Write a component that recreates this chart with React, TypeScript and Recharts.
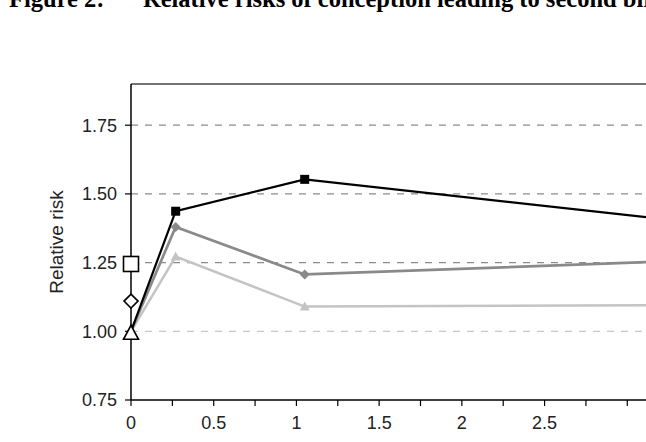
import React from 'react';
import {ComposedChart, Line, Scatter, XAxis, YAxis, ReferenceLine} from 'recharts';

// years since first birth, relative risk for each group
const years = [0, 0.27, 1.05, 3.5];
const blackRisk = [1.0, 1.437, 1.553, 1.39];
const darkRisk = [1.0, 1.38, 1.207, 1.26];
const lightRisk = [1.0, 1.272, 1.09, 1.096];

// unadjusted values, drawn as open markers on the y axis
const openMarkers = [
    {x: 0, y: 1.245, shape: 'square'},
    {x: 0, y: 1.11, shape: 'diamond'},
    {x: 0, y: 1.0, shape: 'triangle'},
];

const xTicks = [0, 0.25, 0.5, 0.75, 1, 1.25, 1.5, 1.75, 2, 2.25, 2.5, 2.75, 3, 3.25, 3.5];
const xLabels = ['0', '0.5', '1', '1.5', '2', '2.5'];
const yTicks = [0.75, 1.0, 1.25, 1.5, 1.75];
const gridValues = [1.0, 1.25, 1.5, 1.75];

const data = years.map((x, i) => ({
    x,
    black: blackRisk[i],
    dark: darkRisk[i],
    light: lightRisk[i],
}));

const FONT = '"Liberation Sans", Arial, Helvetica, sans-serif';
const SERIF = '"Liberation Serif", "Times New Roman", serif';

const squareDot = (props) => {
    const {cx, cy, index} = props;
    if (index === 0) return <g key={`sq-${index}`}/>;
    return <rect key={`sq-${index}`} x={cx - 4.5} y={cy - 4.5} width={9} height={9} fill="#000"/>;
};

const diamondDot = (props) => {
    const {cx, cy, index} = props;
    if (index === 0) return <g key={`dm-${index}`}/>;
    return (
        <path key={`dm-${index}`} d={`M${cx},${cy - 5}L${cx + 5},${cy}L${cx},${cy + 5}L${cx - 5},${cy}Z`} fill="#8a8a8a"/>
    );
};

const triangleDot = (props) => {
    const {cx, cy, index} = props;
    if (index === 0) return <g key={`tr-${index}`}/>;
    return (
        <path key={`tr-${index}`} d={`M${cx},${cy - 5}L${cx + 5},${cy + 4}L${cx - 5},${cy + 4}Z`} fill="#c4c4c4"/>
    );
};

const OpenMarker = (props) => {
    const {cx, cy, payload} = props;
    const common = {fill: '#fff', stroke: '#000', strokeWidth: 1.6};
    if (payload.shape === 'square') {
        return <rect x={cx - 7.5} y={cy - 7.5} width={15} height={15} {...common}/>;
    }
    if (payload.shape === 'diamond') {
        return <path d={`M${cx},${cy - 7}L${cx + 7},${cy}L${cx},${cy + 7}L${cx - 7},${cy}Z`} {...common}/>;
    }
    return <path d={`M${cx},${cy - 6}L${cx + 7.5},${cy + 8}L${cx - 7.5},${cy + 8}Z`} {...common}/>;
};

const YLabel = (props) => {
    const {viewBox} = props;
    const x = viewBox.x + 56;
    const y = viewBox.y + viewBox.height / 2;
    return (
        <text x={x} y={y} transform={`rotate(-90, ${x}, ${y})`} textAnchor="middle" dominantBaseline="central"
              fontFamily={FONT} fontSize={19} fill="#222">
            Relative risk
        </text>
    );
};

const titleStyle: React.CSSProperties = {
    position: 'absolute', top: -13, fontFamily: SERIF, fontWeight: 'bold', fontSize: 24.5,
    lineHeight: '24px', whiteSpace: 'nowrap', color: '#000',
};

const App = () => {
    return (
        <div style={{position: 'fixed', left: 0, top: 0, width: 646, height: 442, overflow: 'hidden', background: '#fff'}}>
            <div style={{...titleStyle, left: 9}}>Figure 2:</div>
            <div style={{...titleStyle, left: 143}}>Relative risks of conception leading to second birth</div>
            <ComposedChart
                width={720}
                height={442}
                data={data}
                margin={{top: 84, right: 10, bottom: 10, left: 0}}
                style={{position: 'absolute', left: 0, top: 0}}
            >
                <XAxis
                    dataKey="x"
                    type="number"
                    domain={[0, 3.5]}
                    ticks={xTicks}
                    interval={0}
                    height={32}
                    tickSize={6}
                    tickMargin={10}
                    tickFormatter={(v) => xLabels.includes(String(v)) ? String(v) : ''}
                    axisLine={{stroke: '#000', strokeWidth: 1.5}}
                    tickLine={{stroke: '#000', strokeWidth: 1.2}}
                    tick={{fontFamily: FONT, fontSize: 18, fill: '#222'}}
                />
                <YAxis
                    type="number"
                    domain={[0.75, 1.9]}
                    ticks={yTicks}
                    interval={0}
                    width={131}
                    tickSize={6}
                    tickMargin={8}
                    tickFormatter={(v) => v.toFixed(2)}
                    axisLine={{stroke: '#000', strokeWidth: 1.5}}
                    tickLine={{stroke: '#000', strokeWidth: 1.2}}
                    tick={{fontFamily: FONT, fontSize: 18, fill: '#222'}}
                    label={<YLabel/>}
                />
                {gridValues.map((v) => (
                    <ReferenceLine key={v} y={v} stroke={v === 1 ? '#c8c8c8' : '#8c8c8c'} strokeWidth={1.2}
                                   strokeDasharray="7 7"/>
                ))}
                <ReferenceLine y={1.9} stroke="#444" strokeWidth={1.5}/>
                <ReferenceLine x={3.5} stroke="#444" strokeWidth={1.5}/>
                <Line dataKey="light" stroke="#c4c4c4" strokeWidth={2.5} dot={triangleDot} isAnimationActive={false}/>
                <Line dataKey="dark" stroke="#8a8a8a" strokeWidth={2.7} dot={diamondDot} isAnimationActive={false}/>
                <Line dataKey="black" stroke="#000" strokeWidth={2.2} dot={squareDot} isAnimationActive={false}/>
                <Scatter data={openMarkers} dataKey="y" shape={<OpenMarker/>} isAnimationActive={false}/>
            </ComposedChart>
        </div>
    );
};

export default App;
